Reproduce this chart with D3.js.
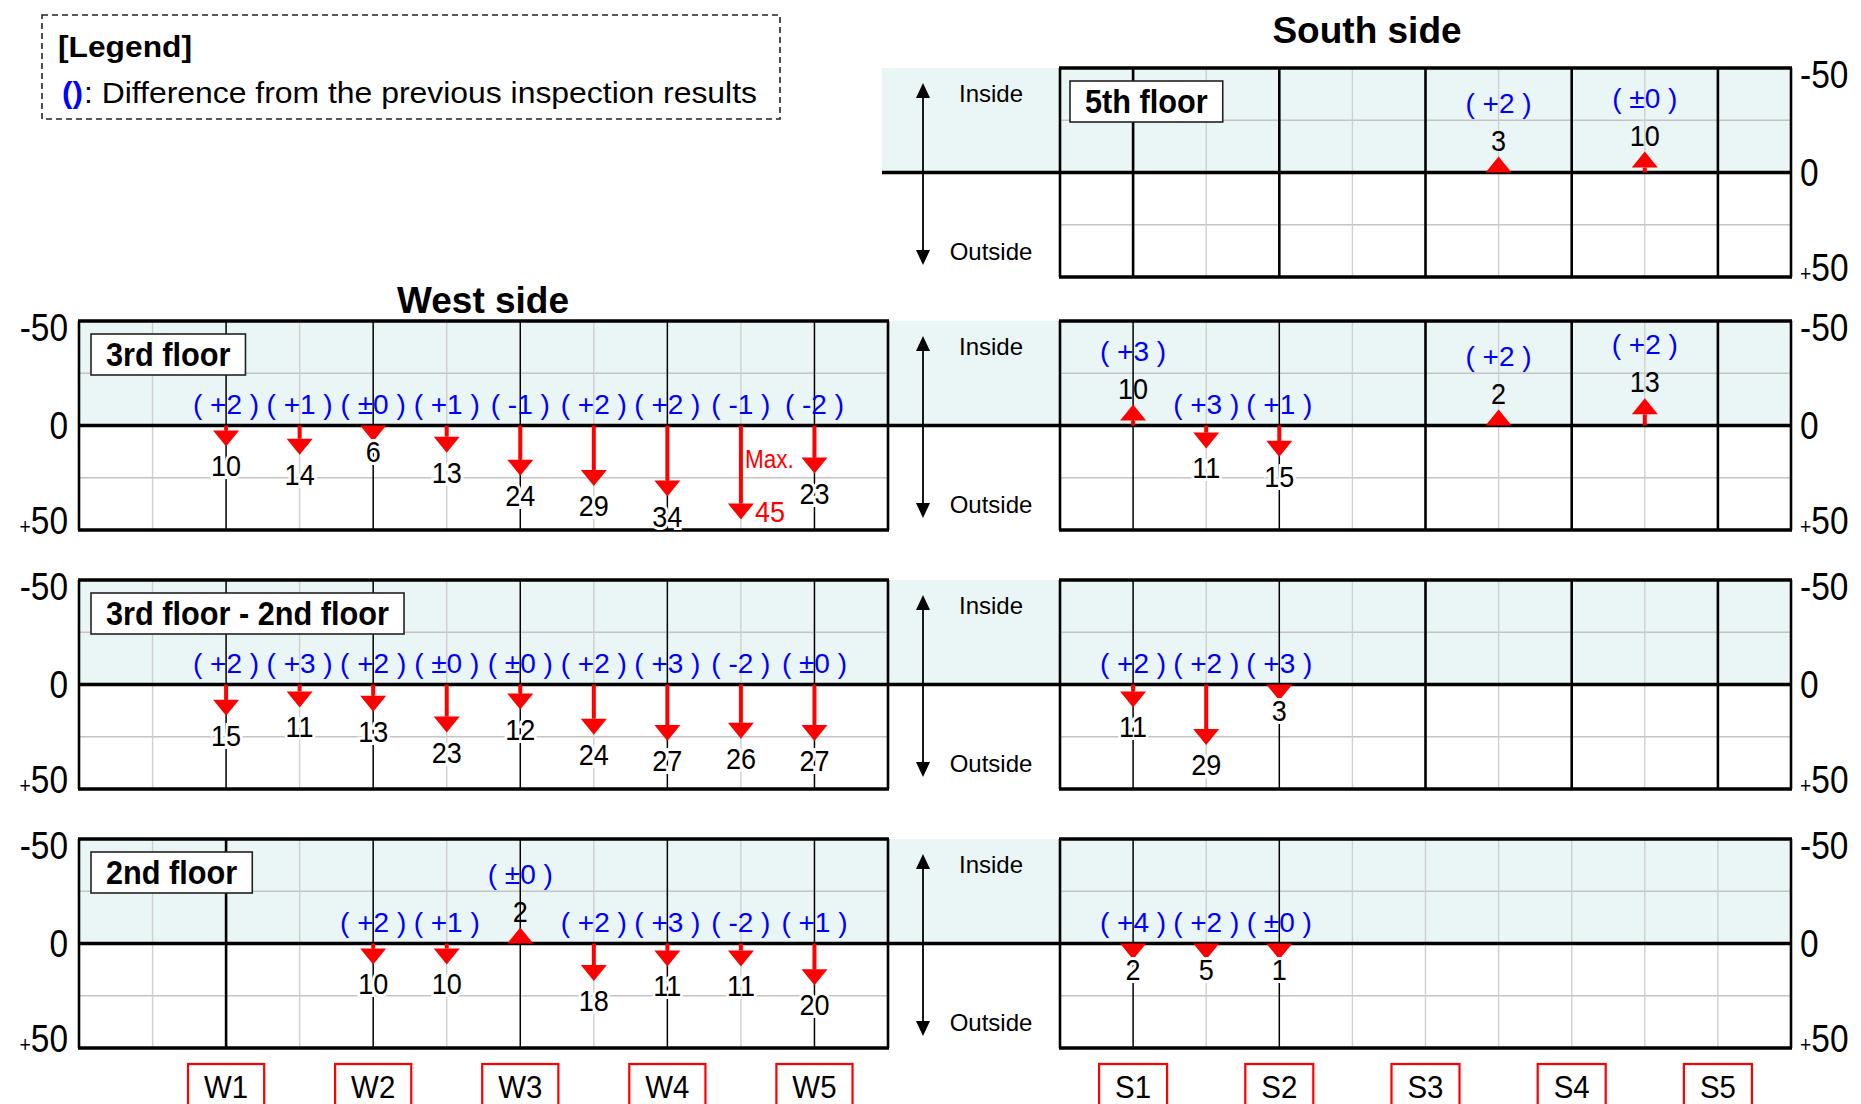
<!DOCTYPE html>
<html>
<head>
<meta charset="utf-8">
<script src="https://cdn.jsdelivr.net/npm/d3@7"></script>
<style>
  body { margin: 0; background: #fff; }
  svg text { font-family: "Liberation Sans", Arial, sans-serif; }
</style>
</head>
<body>
<svg id="chart" width="1861" height="1104"></svg>
<script>
// column names along each side
var westCols = ["W1", "W2", "W3", "W4", "W5"];
var southCols = ["S1", "S2", "S3", "S4", "S5"];
var floorNames = ["5th floor", "3rd floor", "3rd floor - 2nd floor", "2nd floor"];
var yTicks = [-50, 0, 50];

// 9 points per side: on each column and half way between (minus = inside)
var west3F      = [10, 14, 6, 13, 24, 29, 34, 45, 23];
var west3FDiff  = [2, 1, 0, 1, -1, 2, 2, -1, -2];
var west32F     = [15, 11, 13, 23, 12, 24, 27, 26, 27];
var west32FDiff = [2, 3, 2, 0, 0, 2, 3, -2, 0];
var west2F      = [null, null, 10, 10, -2, 18, 11, 11, 20];
var west2FDiff  = [null, null, 2, 1, 0, 2, 3, -2, 1];

var south5F      = [null, null, null, null, null, -3, null, -10, null];
var south5FDiff  = [null, null, null, null, null, 2, null, 0, null];
var south3F      = [-10, 11, 15, null, null, -2, null, -13, null];
var south3FDiff  = [3, 3, 1, null, null, 2, null, 2, null];
var south32F     = [11, 29, 3, null, null, null, null, null, null];
var south32FDiff = [2, 2, 3, null, null, null, null, null, null];
var south2F      = [2, 5, 1, null, null, null, null, null, null];
var south2FDiff  = [4, 2, 0, null, null, null, null, null, null];

var svg = d3.select("#chart");

var rowTops = [68, 321, 580, 839],
    panelH = 209,
    shadeLeft = [882, 79, 79, 79],
    rightEdge = 1791,
    headLen = 16, headW = 26;

var westX = d3.scaleLinear().domain([-2, 9]).range([79, 888]);
var southX = d3.scaleLinear().domain([-1, 9]).range([1060, 1791]);

var panels = [
    { row: 0, x: southX, values: south5F, diffs: south5FDiff },
    { row: 1, x: westX, values: west3F, diffs: west3FDiff },
    { row: 1, x: southX, values: south3F, diffs: south3FDiff },
    { row: 2, x: westX, values: west32F, diffs: west32FDiff },
    { row: 2, x: southX, values: south32F, diffs: south32FDiff },
    { row: 3, x: westX, values: west2F, diffs: west2FDiff },
    { row: 3, x: southX, values: south2F, diffs: south2FDiff, lightCols: true }
];

var maxVal = d3.max(panels, function(p) { return d3.max(p.values); });

function yScale(row) {
    return d3.scaleLinear().domain([-50, 50]).range([rowTops[row], rowTops[row] + panelH]);
}

function fmtDiff(d) {
    var s = d > 0 ? "+" + d : (d === 0 ? "\u00b10" : "-" + Math.abs(d));
    return "( " + s + " )";
}

// the original lettering is a little narrower than Arial; returns the new width
function condense(t, k) {
    var len = t.node().getComputedTextLength() * k;
    t.attr("textLength", len).attr("lengthAdjust", "spacingAndGlyphs");
    return len;
}

// legend
svg.append("rect")
    .attr("x", 42).attr("y", 15).attr("width", 738).attr("height", 104)
    .attr("fill", "none").attr("stroke", "#222").attr("stroke-width", 1.6)
    .attr("stroke-dasharray", "6,4");
svg.append("text").attr("x", 58).attr("y", 57)
    .attr("font-size", 30).attr("font-weight", "bold")
    .attr("textLength", 134).attr("lengthAdjust", "spacingAndGlyphs")
    .text("[Legend]");
svg.append("text").attr("x", 62).attr("y", 103)
    .attr("font-size", 30).attr("font-weight", "bold").attr("fill", "#0000ff")
    .attr("textLength", 21).attr("lengthAdjust", "spacingAndGlyphs")
    .text("()");
svg.append("text").attr("x", 84).attr("y", 103)
    .attr("font-size", 30)
    .attr("textLength", 673).attr("lengthAdjust", "spacingAndGlyphs")
    .text(": Difference from the previous inspection results");

// side titles
svg.append("text").attr("x", 1367).attr("y", 43).attr("text-anchor", "middle")
    .attr("font-size", 37).attr("font-weight", "bold").text("South side");
svg.append("text").attr("x", 483).attr("y", 313).attr("text-anchor", "middle")
    .attr("font-size", 37).attr("font-weight", "bold").text("West side");

// inside shading
rowTops.forEach(function(top, r) {
    var y = yScale(r);
    svg.append("rect")
        .attr("x", shadeLeft[r]).attr("y", y(-50))
        .attr("width", rightEdge - shadeLeft[r]).attr("height", y(0) - y(-50))
        .attr("fill", "#eaf5f5");
});

// panel grids
panels.forEach(function(p) {
    var y = yScale(p.row), x = p.x, d = x.domain();
    var g = svg.append("g");

    g.selectAll("line.h")
        .data([-25, 25])
      .enter().append("line")
        .attr("x1", x(d[0])).attr("x2", x(d[1]))
        .attr("y1", function(v) { return y(v); }).attr("y2", function(v) { return y(v); })
        .attr("stroke", "#c4c4c4").attr("stroke-width", 1.6);

    var cols = d3.range(d[0] + 1, d[1]);
    g.selectAll("line.v")
        .data(cols)
      .enter().append("line")
        .attr("x1", function(i) { return x(i); }).attr("x2", function(i) { return x(i); })
        .attr("y1", y(-50)).attr("y2", y(50))
        .attr("stroke", function(i) {
            if (i % 2 !== 0 || i < 0) return "#cfcfcf";
            return p.lightCols && p.values[i] == null ? "#cfcfcf" : "#000";
        })
        .attr("stroke-width", function(i) {
            if (i % 2 !== 0 || i < 0) return 1.4;
            if (p.lightCols && p.values[i] == null) return 1.4;
            return p.values[i] == null ? 2.6 : 1.5;
        });
});

// zero lines
rowTops.forEach(function(top, r) {
    var y = yScale(r);
    svg.append("line")
        .attr("x1", shadeLeft[r]).attr("x2", rightEdge)
        .attr("y1", y(0)).attr("y2", y(0))
        .attr("stroke", "#000").attr("stroke-width", 3.5);
});

// panel borders and y labels
panels.forEach(function(p) {
    var y = yScale(p.row), x = p.x, d = x.domain();
    var x0 = x(d[0]), x1 = x(d[1]);
    var g = svg.append("g");
    [y(-50), y(50)].forEach(function(yy) {
        g.append("line").attr("x1", x0 - 1).attr("x2", x1 + 1).attr("y1", yy).attr("y2", yy)
            .attr("stroke", "#000").attr("stroke-width", 3.6);
    });
    [x0, x1].forEach(function(xx) {
        g.append("line").attr("x1", xx).attr("x2", xx).attr("y1", y(-50)).attr("y2", y(50))
            .attr("stroke", "#000").attr("stroke-width", 2.6);
    });

    var west = p.x === westX;
    g.selectAll("text.tick")
        .data(yTicks)
      .enter().append("text")
        .attr("x", west ? 68 : 1800)
        .attr("y", function(v) {
            if (v < 0) return y(v) + 20;
            if (v > 0) return y(v) + 4;
            return y(v) + 13.5;
        })
        .attr("text-anchor", west ? "end" : "start")
        .attr("font-size", 38)
        .each(function(v) {
            var t = d3.select(this);
            if (v > 0) {
                t.append("tspan").attr("font-size", 22).text("+");
                t.append("tspan").text(v);
            } else {
                t.text(v);
            }
            condense(t, 0.88);
        });
});

// inside / outside arrows
rowTops.forEach(function(top, r) {
    var y = yScale(r), ax = 923;
    var g = svg.append("g");
    g.append("line").attr("x1", ax).attr("x2", ax)
        .attr("y1", y(-50) + 28).attr("y2", y(50) - 26)
        .attr("stroke", "#000").attr("stroke-width", 1.8);
    g.append("path")
        .attr("d", "M" + ax + "," + (y(-50) + 15) + "l-7,15h14z")
        .attr("fill", "#000");
    g.append("path")
        .attr("d", "M" + ax + "," + (y(50) - 12) + "l-7,-15h14z")
        .attr("fill", "#000");
    g.append("text").attr("x", 991).attr("y", y(-50) + 34)
        .attr("text-anchor", "middle").attr("font-size", 24).text("Inside");
    g.append("text").attr("x", 991).attr("y", y(50) - 17)
        .attr("text-anchor", "middle").attr("font-size", 24).text("Outside");
});

// floor name boxes
panels.forEach(function(p) {
    if (p.row !== 0 && p.x !== westX) return;
    var y = yScale(p.row), left = p.x(p.x.domain()[0]) + (p.row === 0 ? 10 : 12);
    var g = svg.append("g");
    var box = g.append("rect")
        .attr("x", left).attr("y", y(-50) + 13).attr("height", 41)
        .attr("fill", "#fff").attr("stroke", "#222").attr("stroke-width", 1.6);
    var t = g.append("text")
        .attr("x", left + 15).attr("y", y(-50) + 45)
        .attr("font-size", 33).attr("font-weight", "bold")
        .text(floorNames[p.row]);
    box.attr("width", condense(t, 0.93) + 30);
});

// measurement arrows and labels
panels.forEach(function(p) {
    var y = yScale(p.row), x = p.x, y0 = y(0);
    var pts = p.values.map(function(v, i) { return { i: i, v: v, d: p.diffs[i] }; })
        .filter(function(o) { return o.v != null; });
    var g = svg.append("g");

    pts.forEach(function(o) {
        var px = x(o.i), dir = o.v > 0 ? 1 : -1;
        var len = Math.abs(y(o.v) - y0), headOnly = len <= headLen;
        var tip = y0 + dir * Math.max(len, headLen);
        var base = tip - dir * headLen;
        if (!headOnly) {
            g.append("line").attr("x1", px).attr("x2", px)
                .attr("y1", y0).attr("y2", base)
                .attr("stroke", "#ff0000").attr("stroke-width", 4);
        }
        g.append("path")
            .attr("d", "M" + px + "," + tip + "L" + (px - headW / 2) + "," + base +
                       "L" + (px + headW / 2) + "," + base + "Z")
            .attr("fill", "#ff0000");

        var vy;
        if (o.v === maxVal) {
            condense(g.append("text").attr("x", px + 4).attr("y", y0 + 42)
                .attr("font-size", 25).attr("fill", "#ff0000").text("Max."), 0.9);
            condense(g.append("text").attr("x", px + 14).attr("y", tip + 2)
                .attr("font-size", 30).attr("fill", "#ff0000").text(o.v), 0.9);
        } else {
            vy = dir > 0 ? tip + (headOnly ? 20 : 30) : tip - 6;
            condense(g.append("text").attr("x", px).attr("y", vy)
                .attr("text-anchor", "middle").attr("font-size", 30)
                .attr("stroke", dir > 0 ? "#fff" : "none").attr("stroke-width", 6)
                .attr("paint-order", "stroke")
                .text(Math.abs(o.v)), 0.9);
        }

        if (o.d != null) {
            var dy = dir > 0 ? y0 - 12 : vy - 38;
            g.append("text").attr("x", px).attr("y", dy)
                .attr("text-anchor", "middle").attr("font-size", 28)
                .attr("fill", "#0000ff")
                .style("white-space", "pre")
                .text(fmtDiff(o.d));
        }
    });
});

// column name boxes under the last row
[{ cols: westCols, x: westX }, { cols: southCols, x: southX }].forEach(function(s) {
    svg.selectAll(null)
        .data(s.cols)
      .enter().append("g")
        .each(function(c, k) {
            var gx = s.x(k * 2), gg = d3.select(this);
            var t = gg.append("text").attr("x", gx).attr("y", 1098)
                .attr("text-anchor", "middle").attr("font-size", 32).text(c);
            var w = condense(t, 0.92) + 32;
            gg.insert("rect", "text")
                .attr("x", gx - w / 2).attr("y", 1064).attr("width", w).attr("height", 50)
                .attr("fill", "#fff").attr("stroke", "#ff0000").attr("stroke-width", 2.2);
        });
});
</script>
</body>
</html>
